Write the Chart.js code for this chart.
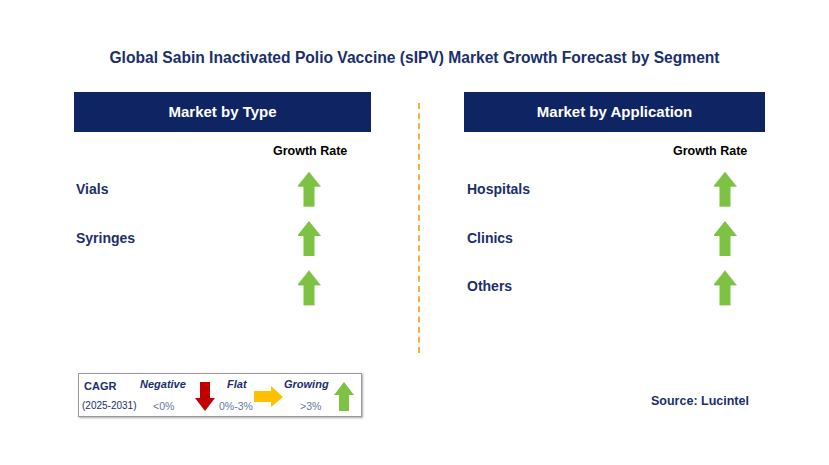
<!DOCTYPE html><html><head><meta charset="utf-8">
<script src="https://cdn.jsdelivr.net/npm/chart.js@4"></script>
<style>
body{margin:0;width:829px;height:465px;background:#fff;font-family:"Liberation Sans",Arial,sans-serif;position:relative;overflow:hidden}
.a{position:absolute;white-space:nowrap}
.t{left:0;width:829px;text-align:center;top:49px;font-weight:bold;font-size:15.6px;color:#1a2f6b}
.h{background:#0f2563;color:#fff;font-weight:bold;font-size:15px;text-align:center;line-height:40px;height:40px;top:92px}
.g{font-weight:bold;font-size:12.5px;color:#000;top:144px}
.l{font-weight:bold;font-size:14px;color:#1a2f6b}
.cw{position:absolute;top:154px}
</style></head><body>
<div class="a t">Global Sabin Inactivated Polio Vaccine (sIPV) Market Growth Forecast by Segment</div>
<div class="a h" style="left:74px;width:297px">Market by Type</div>
<div class="a h" style="left:464px;width:301px">Market by Application</div>
<div class="a g" style="left:273px">Growth Rate</div>
<div class="a g" style="left:673px">Growth Rate</div>
<div id="lt"></div><div id="rt"></div>
<div class="a" style="left:418px;top:103px;height:250px;border-left:2px dashed #f5b335"></div>
<canvas id="c1" class="cw" width="40" height="170" style="left:298px;width:40px;height:170px"></canvas>
<canvas id="c2" class="cw" width="40" height="170" style="left:714px;width:40px;height:170px"></canvas>
<div class="a" style="left:78px;top:373px;width:282px;height:42px;border:1px solid #999;box-shadow:1px 1px 2px #aaa">
<div class="a" style="left:5px;top:6px;font-weight:bold;font-size:11px;color:#1a2f6b">CAGR</div>
<div class="a" style="left:3px;top:26px;font-size:10px;color:#1a2f6b">(2025-2031)</div>
<div class="a" style="left:61px;top:4px;font-weight:bold;font-style:italic;font-size:11px;color:#1a2f6b">Negative</div>
<div class="a" style="left:74px;top:26px;font-size:10.5px;color:#6677a0">&lt;0%</div>
<svg class="a" style="left:115px;top:8px" width="22" height="30"><polygon points="6,0 16,0 16,16 21,16 11,29 1,16 6,16" fill="#c00000"/></svg>
<div class="a" style="left:148px;top:4px;font-weight:bold;font-style:italic;font-size:11px;color:#1a2f6b">Flat</div>
<div class="a" style="left:140px;top:26px;font-size:10.5px;color:#6677a0">0%-3%</div>
<svg class="a" style="left:175px;top:12px" width="30" height="22"><polygon points="0,5 17,5 17,0 29,11 17,21 17,16 0,16" fill="#ffc000"/></svg>
<div class="a" style="left:205px;top:4px;font-weight:bold;font-style:italic;font-size:11px;color:#1a2f6b">Growing</div>
<div class="a" style="left:221px;top:26px;font-size:10.5px;color:#6677a0">&gt;3%</div>
<svg class="a" style="left:254px;top:8px" width="22" height="30"><polygon points="11,0 21,13 16,13 16,29 6,29 6,13 1,13" fill="#7dc242"/></svg>
</div>
<div class="a" style="left:651px;top:394px;font-weight:bold;font-size:12.5px;color:#1a2f6b">Source: Lucintel</div>
<script>
const typeCategories=["Vials","Syringes",""];
const typeGrowth=["Growing","Growing","Growing"];
const appCategories=["Hospitals","Clinics","Others"];
const appGrowth=["Growing","Growing","Growing"];
const colLabel=["Growth Rate"];
function labels(id,cats){const el=document.getElementById(id);cats.forEach((c,i)=>{const d=document.createElement('div');d.className='a l';d.textContent=c;d.style.left=(id=='lt'?76:467)+'px';d.style.top=(181+i*48.5)+'px';el.appendChild(d);});}
labels('lt',typeCategories);labels('rt',appCategories);
function arrow(color){const c=document.createElement('canvas');c.width=26;c.height=36;const x=c.getContext('2d');x.fillStyle=color;x.beginPath();x.moveTo(13,0);x.lineTo(25,15);x.lineTo(18.5,15);x.lineTo(18.5,35);x.lineTo(7.5,35);x.lineTo(7.5,15);x.lineTo(1,15);x.closePath();x.fill();return c;}
const styles={Growing:arrow('#7dc242')};
function mk(id,cats,g){new Chart(document.getElementById(id),{type:'scatter',data:{datasets:[{data:cats.map((c,i)=>({x:colLabel[0],y:String(i)})),pointStyle:g.map(v=>styles[v]),radius:10}]},
options:{responsive:false,animation:false,layout:{padding:0},plugins:{legend:{display:false},tooltip:{enabled:false}},
scales:{x:{type:'category',labels:colLabel,display:false},y:{type:'category',labels:cats.map((c,i)=>String(i)),offset:true,display:false}}}});}
mk('c1',typeCategories,typeGrowth);mk('c2',appCategories,appGrowth);
</script></body></html>
